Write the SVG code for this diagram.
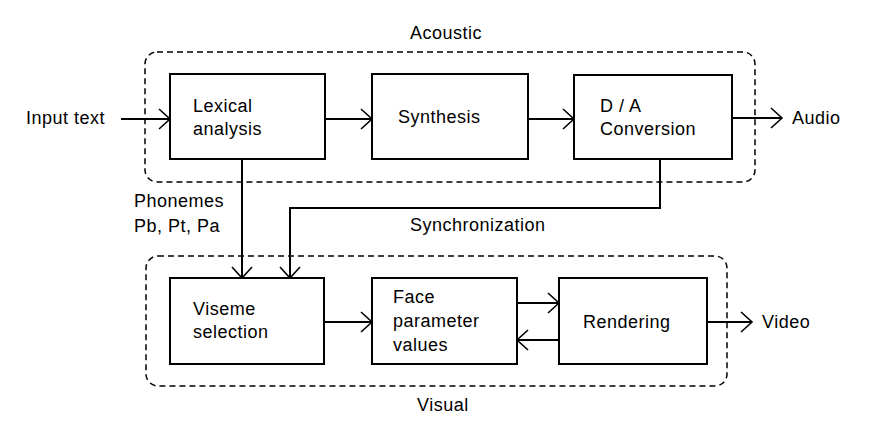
<svg xmlns="http://www.w3.org/2000/svg" width="877" height="435" viewBox="0 0 877 435">
<style>
text{font-family:"Liberation Sans",Arial,sans-serif;font-size:18px;letter-spacing:0.5px;fill:#000}
.box{fill:#fff;stroke:#000;stroke-width:2}
.grp{fill:none;stroke:#000;stroke-width:1.5;stroke-dasharray:6 4}
.c{fill:none;stroke:#000;stroke-width:2}
</style>
<defs>
<marker id="ah" markerWidth="14" markerHeight="22" refX="12" refY="11" orient="auto" markerUnits="userSpaceOnUse">
<path d="M1,1 L12,11 L1,21" fill="none" stroke="#000" stroke-width="1.6"/>
</marker>
</defs>
<g id="acoustic-group">
<rect class="grp" x="145" y="52" width="610" height="130" rx="12"/>
<text x="410" y="39">Acoustic</text>
</g>
<g id="visual-group">
<rect class="grp" x="146" y="256" width="581" height="130" rx="12"/>
<text x="417" y="411">Visual</text>
</g>
<g id="connectors">
<line class="c" x1="121" y1="119" x2="170" y2="119" marker-end="url(#ah)"/>
<line class="c" x1="325" y1="119" x2="372" y2="119" marker-end="url(#ah)"/>
<line class="c" x1="528" y1="119" x2="574" y2="119" marker-end="url(#ah)"/>
<line class="c" x1="732" y1="118" x2="782" y2="118" marker-end="url(#ah)"/>
<line class="c" x1="242" y1="159" x2="242" y2="278" marker-end="url(#ah)"/>
<polyline class="c" points="660,159 660,208 290,208 290,278" marker-end="url(#ah)"/>
<line class="c" x1="324" y1="322" x2="372" y2="322" marker-end="url(#ah)"/>
<line class="c" x1="517" y1="303" x2="559" y2="303" marker-end="url(#ah)"/>
<line class="c" x1="559" y1="340" x2="517" y2="340" marker-end="url(#ah)"/>
<line class="c" x1="707" y1="322" x2="752" y2="322" marker-end="url(#ah)"/>
</g>
<g id="input-text"><text x="26" y="124">Input text</text></g>
<g id="lexical-analysis">
<rect class="box" x="170" y="74" width="155" height="85"/>
<text x="193" y="112">Lexical</text>
<text x="193" y="135">analysis</text>
</g>
<g id="synthesis">
<rect class="box" x="372" y="74" width="156" height="85"/>
<text x="398" y="123">Synthesis</text>
</g>
<g id="da-conversion">
<rect class="box" x="574" y="75" width="158" height="84"/>
<text x="600" y="112">D / A</text>
<text x="600" y="135">Conversion</text>
</g>
<g id="audio"><text x="792" y="124">Audio</text></g>
<g id="phonemes-label">
<text x="134" y="207">Phonemes</text>
<text x="134" y="232">Pb, Pt, Pa</text>
</g>
<g id="sync-label"><text x="410" y="231">Synchronization</text></g>
<g id="viseme-selection">
<rect class="box" x="170" y="278" width="154" height="86"/>
<text x="193" y="315">Viseme</text>
<text x="193" y="338">selection</text>
</g>
<g id="face-parameter-values">
<rect class="box" x="372" y="278" width="145" height="86"/>
<text x="393" y="303">Face</text>
<text x="393" y="327">parameter</text>
<text x="393" y="351">values</text>
</g>
<g id="rendering">
<rect class="box" x="559" y="278" width="148" height="86"/>
<text x="583" y="328">Rendering</text>
</g>
<g id="video"><text x="762" y="328">Video</text></g>
</svg>
